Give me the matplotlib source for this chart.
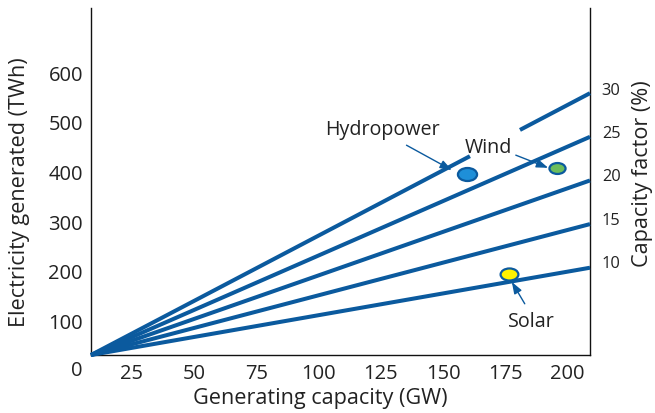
import numpy as np
import matplotlib.pyplot as plt
from matplotlib.path import Path
from matplotlib.transforms import blended_transform_factory

plt.rcParams['font.family'] = ['Open Sans', 'DejaVu Sans']

# axis ranges as drawn (the lines start at the lower-left corner)
x_lim = (8.6, 209)
y_lim = (31, 729)
cf_lim = (-0.94, 39.3)

x_ticks = [25, 50, 75, 100, 125, 150, 175, 200]
y_ticks = [100, 200, 300, 400, 500, 600]
cf_ticks = [10, 15, 20, 25, 30]

# capacity factor lines (%)
cf_lines = [10, 15, 20, 25, 30]
gap_30 = (161, 180.4)   # break in the 30 % line

# technologies: capacity (GW), generation (TWh)
techs = ['Hydropower', 'Wind', 'Solar']
tech_gw = [159.5, 195.6, 176.4]
tech_twh = [395, 407, 194]
tech_fill = ['#1e8fd8', '#6cbd5c', '#fff200']
tech_ms = [13.8, 11.6, 12.8]

# label positions and arrow tails (data coords)
label_xy = [(125.7, 486), (168.1, 449), (185.6, 99)]
arrow_from = [(135.3, 453), (179.2, 433), (182.8, 134)]
arrow_to = [(153.5, 403), (192.2, 407.5), (177.6, 178)]

blue = '#0b5a9e'
txt = '#222222'

fig = plt.figure(figsize=(6.55, 4.14), dpi=100)
ax = fig.add_axes([91/655, 1-356/414, (590-91)/655, (356-9)/414])
ax.set_xlim(*x_lim)
ax.set_ylim(*y_lim)

for cf in cf_lines:
    gw = np.linspace(x_lim[0], x_lim[1], 400)
    twh = y_lim[0] + 8.76 * cf / 100 * (gw - x_lim[0])
    if cf == 30:
        twh = np.where((gw > gap_30[0]) & (gw < gap_30[1]), np.nan, twh)
    ax.plot(gw, twh, color=blue, lw=2.9, solid_capstyle='butt', zorder=3, clip_on=False)

# elliptical marker
circ = Path.unit_circle()
ell = Path(circ.vertices * [1, 0.68], circ.codes)
for gw, twh, fc, ms in zip(tech_gw, tech_twh, tech_fill, tech_ms):
    ax.plot(gw, twh, marker=ell, ms=ms, mfc=fc, mec=blue, mew=1.6, ls='none', zorder=5)

for name, lxy, a0, a1 in zip(techs, label_xy, arrow_from, arrow_to):
    ax.text(lxy[0], lxy[1], name, ha='center', va='center', fontsize=14.2, color=txt)
    ax.annotate('', xy=a1, xytext=a0,
                arrowprops=dict(arrowstyle='-|>,head_length=0.7,head_width=0.25',
                                color=blue, lw=1.0, shrinkA=0, shrinkB=0), zorder=4)

ax.spines['top'].set_visible(False)
for s in ['left', 'bottom', 'right']:
    ax.spines[s].set_linewidth(1.0)
    ax.spines[s].set_color('#111111')
ax.set_xticks(x_ticks)
ax.set_yticks(y_ticks)
ax.tick_params(axis='both', length=0, labelsize=14.5, colors=txt)
ax.tick_params(axis='x', pad=6)
ax.tick_params(axis='y', pad=5.8)

# shared origin label
tr = blended_transform_factory(ax.transAxes, ax.transData)
ax.annotate('0', xy=(0, 0), xycoords=tr, xytext=(-5.8, 0), textcoords='offset points',
            ha='right', va='center', fontsize=14.5, color=txt, annotation_clip=False)

ax.set_xlabel('Generating capacity (GW)', fontsize=15.6, color=txt)
ax.set_ylabel('Electricity generated (TWh)', fontsize=15.6, color=txt)
ax.xaxis.set_label_coords((320-91)/499, -(388-356)/347)
ax.yaxis.set_label_coords(-(91-30)/499, (356-192)/347)

ax2 = ax.twinx()
ax2.set_ylim(*cf_lim)
ax2.set_yticks(cf_ticks)
for s in ax2.spines.values():
    s.set_visible(False)
ax2.tick_params(axis='y', length=0, labelsize=11.8, colors=txt, pad=8.5)
ax2.set_ylabel('Capacity factor (%)', fontsize=15.6, color=txt)
ax2.yaxis.set_label_coords((632-91)/499, (356-174)/347)

fig.savefig('out.png', dpi=100)
